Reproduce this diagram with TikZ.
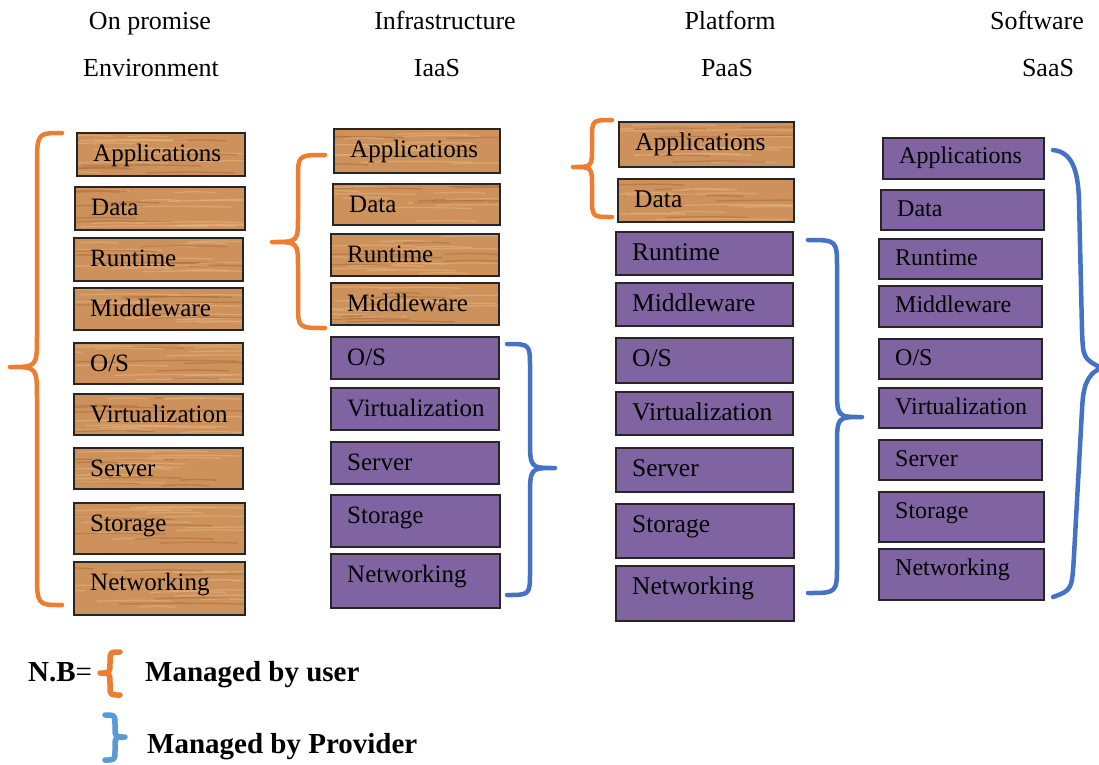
\documentclass[tikz,border=0pt]{standalone}
\usepackage{fontspec}
\setmainfont{Liberation Serif}
\usetikzlibrary{calc}

\definecolor{woodbase}{RGB}{205,145,92}
\definecolor{woodlight}{RGB}{228,182,130}
\definecolor{wooddark}{RGB}{168,106,58}
\definecolor{stackpurple}{RGB}{128,100,162}
\definecolor{userorange}{RGB}{237,125,49}
\definecolor{provblue}{RGB}{68,114,196}
\definecolor{keyblue}{RGB}{91,155,213}
\definecolor{edgegray}{RGB}{38,38,38}

\tikzset{
  layerbox/.style={draw=edgegray, line width=1.6pt, inner sep=0pt},
  woodbox/.style={layerbox, fill=woodbase,
    path picture={
      \foreach \k in {1,...,18}{
        \pgfmathsetmacro\fy{0.05+0.9*rnd}
        \pgfmathsetmacro\fx{rnd-0.25}
        \pgfmathsetmacro\fl{0.2+0.55*rnd}
        \pgfmathtruncatemacro\dk{mod(\k,3)}
        \ifnum\dk=0 \def\grain{wooddark}\else\def\grain{woodlight}\fi
        \draw[\grain, line width=1.3pt, opacity=0.55, line cap=round]
          let \p1=(path picture bounding box.south west),
              \p2=(path picture bounding box.north east) in
          ({\x1+\fx*(\x2-\x1)}, {\y1+\fy*(\y2-\y1)})
            .. controls +({0.5*\fl*(\x2-\x1)}, 1.2pt) .. ++({\fl*(\x2-\x1)}, 0pt);
      }
    }},
  purplebox/.style={layerbox, fill=stackpurple},
  lbl/.style={inner sep=0pt, text=black, font=\fontsize{25}{30}\selectfont},
  head/.style={inner sep=0pt, font=\fontsize{26}{30}\selectfont},
  keytext/.style={inner sep=0pt, font=\fontsize{29}{34}\selectfont\bfseries},
  curly/.style={line width=4.5pt, line cap=round, line join=round},
}

% one layer of a service stack: name, style, x1, y1, x2, y2, text, baseline offset
\newcommand\layer[8]{%
  \pgfmathsetmacro\lw{#5-#3}\pgfmathsetmacro\lh{#6-#4}%
  \node[#2, anchor=north west, minimum width=\lw pt, minimum height=\lh pt] (#1) at (#3,#4) {};
  \node[lbl, anchor=base west] (#1-t) at ($(#1.north west)+(17,#8)$) {#7};
}

% curly brace: style, end x, line x, tip x, top y, tip y, bottom y, hook size, tip size
\newcommand\curlyb[9]{%
  \draw[#1] (#2,#5) .. controls (#3,#5) .. (#3,{#5+#8}) -- (#3,{#6-#9})
    .. controls (#3,#6) .. (#4,#6) .. controls (#3,#6) .. (#3,{#6+#9})
    -- (#3,{#7-#8}) .. controls (#3,#7) .. (#2,#7);
}

\begin{document}
\begin{tikzpicture}[x=1pt, y=-1pt]
\pgfmathsetseed{17}
\fill[white] (0,0) rectangle (1099,764);
\useasboundingbox (0,0) rectangle (1099,764);

% column headings
\node[head, anchor=base] (h1a) at (150,29) {On promise};
\node[head, anchor=base] (h1b) at (151,76) {Environment};
\node[head, anchor=base] (h2a) at (445,29) {Infrastructure};
\node[head, anchor=base] (h2b) at (437,76) {IaaS};
\node[head, anchor=base] (h3a) at (730,29) {Platform};
\node[head, anchor=base] (h3b) at (727,76) {PaaS};
\node[head, anchor=base] (h4a) at (1037,29) {Software};
\node[head, anchor=base] (h4b) at (1048,76) {SaaS};

% on-premise stack: everything managed by the user
\layer{a1}{woodbox}{76}{132}{244}{175}{Applications}{29}
\layer{a2}{woodbox}{74}{186}{244}{229}{Data}{29}
\layer{a3}{woodbox}{73}{237}{242}{280}{Runtime}{29}
\layer{a4}{woodbox}{73}{287}{242}{329}{Middleware}{29}
\layer{a5}{woodbox}{73}{342}{242}{383}{O/S}{29}
\layer{a6}{woodbox}{73}{393}{242}{434}{Virtualization}{29}
\layer{a7}{woodbox}{73}{447}{242}{488}{Server}{29}
\layer{a8}{woodbox}{73}{502}{244}{553}{Storage}{29}
\layer{a9}{woodbox}{73}{561}{244}{614}{Networking}{29}

% IaaS stack
\layer{b1}{woodbox}{333}{128}{499}{172}{Applications}{29}
\layer{b2}{woodbox}{332}{183}{499}{224}{Data}{29}
\layer{b3}{woodbox}{330}{233}{498}{275}{Runtime}{29}
\layer{b4}{woodbox}{330}{282}{498}{324}{Middleware}{29}
\layer{b5}{purplebox}{330}{336}{498}{378}{O/S}{29}
\layer{b6}{purplebox}{330}{387}{498}{429}{Virtualization}{29}
\layer{b7}{purplebox}{330}{441}{498}{483}{Server}{29}
\layer{b8}{purplebox}{330}{494}{499}{546}{Storage}{29}
\layer{b9}{purplebox}{330}{553}{499}{607}{Networking}{29}

% PaaS stack
\begin{scope}[lbl/.append style={font=\fontsize{25.5}{30}\selectfont}]
\layer{c1}{woodbox}{618}{121}{793}{166}{Applications}{29}
\layer{c2}{woodbox}{617}{178}{793}{221}{Data}{29}
\layer{c3}{purplebox}{615}{231}{792}{274}{Runtime}{29}
\layer{c4}{purplebox}{615}{282}{792}{325}{Middleware}{29}
\layer{c5}{purplebox}{615}{337}{792}{382}{O/S}{29}
\layer{c6}{purplebox}{615}{391}{792}{434}{Virtualization}{29}
\layer{c7}{purplebox}{615}{447}{792}{491}{Server}{29}
\layer{c8}{purplebox}{615}{503}{793}{557}{Storage}{29}
\layer{c9}{purplebox}{615}{565}{793}{620}{Networking}{29}
\end{scope}

% SaaS stack
\begin{scope}[lbl/.append style={font=\fontsize{24}{29}\selectfont}]
\layer{d1}{purplebox}{882}{137}{1043}{178}{Applications}{26.5}
\layer{d2}{purplebox}{880}{189}{1043}{229}{Data}{27.5}
\layer{d3}{purplebox}{878}{238}{1041}{278}{Runtime}{27.5}
\layer{d4}{purplebox}{878}{285}{1041}{326}{Middleware}{27.5}
\layer{d5}{purplebox}{878}{338}{1041}{378}{O/S}{27.5}
\layer{d6}{purplebox}{878}{387}{1041}{427}{Virtualization}{27.5}
\layer{d7}{purplebox}{878}{439}{1041}{479}{Server}{27.5}
\layer{d8}{purplebox}{878}{491}{1043}{541}{Storage}{27.5}
\layer{d9}{purplebox}{878}{548}{1043}{599}{Networking}{27.5}
\end{scope}

% braces: user-managed (orange) and provider-managed (blue)
\curlyb{curly, userorange}{62}{37}{10}{133}{367}{605}{34}{32}
\curlyb{curly, userorange}{325}{298}{272}{155}{242}{328}{24}{26}
\curlyb{curly, userorange}{612}{592}{573}{120}{167}{217}{20}{20}
\curlyb{curly, provblue}{507}{530}{555}{344}{468}{595}{24}{30}
\curlyb{curly, provblue}{808}{837}{862}{240}{417}{593}{29}{30}
\draw[curly, provblue] (1053,150) .. controls (1072,152) and (1078,170) .. (1079,200)
  -- (1082,330) .. controls (1083,358) .. (1101,368)
  .. controls (1085,375) and (1083,390) .. (1082,410)
  -- (1074,555) .. controls (1072,590) .. (1053,597);

% legend
\node[keytext, anchor=base west] (nb) at (28,681) {N.B\textmd{=}};
\curlyb{curly, line width=5.5pt, userorange}{120}{110}{100}{652}{673}{695}{9}{10}
\node[keytext, anchor=base west] (kuser) at (145,681) {Managed by user};
\curlyb{curly, line width=5.5pt, keyblue}{105}{115}{125}{715}{737}{760}{9}{10}
\node[keytext, anchor=base west] (kprov) at (147,753) {Managed by Provider};
\end{tikzpicture}
\end{document}
